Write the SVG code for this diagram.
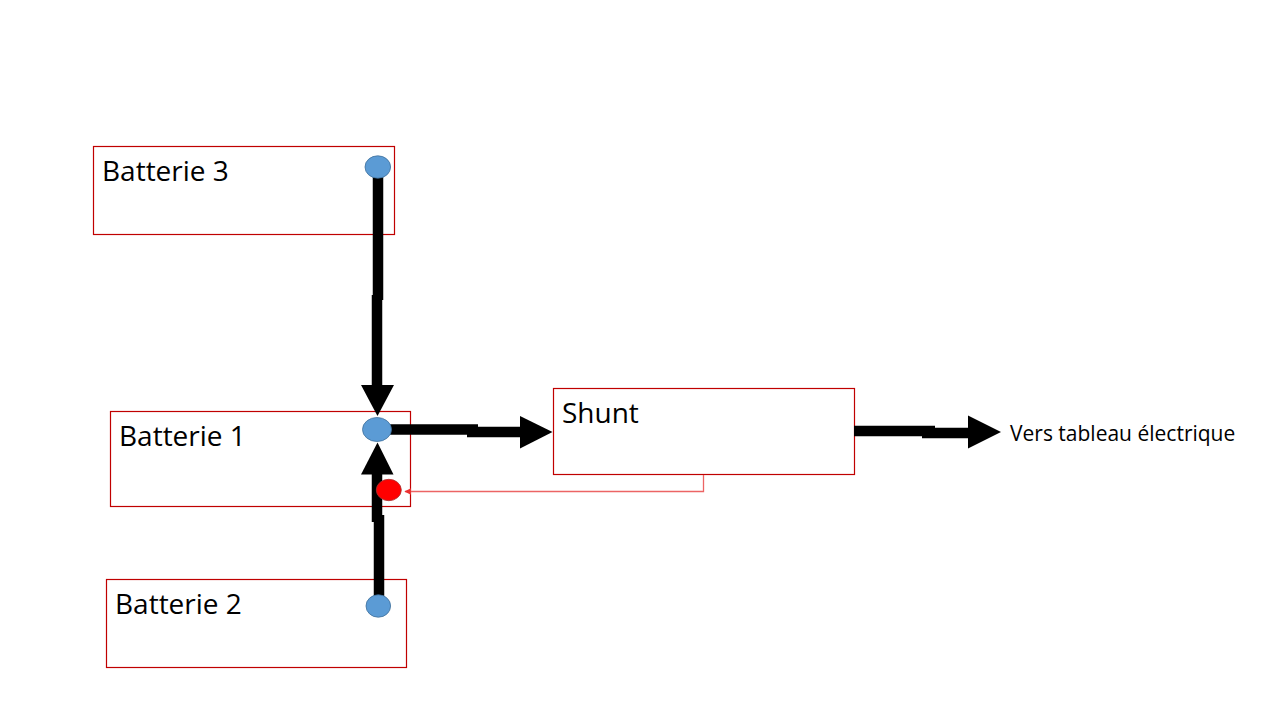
<svg xmlns="http://www.w3.org/2000/svg" width="1280" height="720" viewBox="0 0 1280 720">
<defs>
<style>
.box{fill:none;stroke:#C00000;stroke-width:1.2}
.lbl{font-family:"Open Sans","Liberation Sans",Arial,sans-serif;font-size:28px;fill:#000}
.out{font-family:"Open Sans","Liberation Sans",Arial,sans-serif;font-size:21px;fill:#000}
.shaft{stroke:#000;stroke-width:10.5;fill:none}
.head{fill:#000}
.term{fill:#5B9BD5;stroke:#41719C;stroke-width:0.8}
.sense{fill:#FF0000;stroke:#A83232;stroke-width:0.8}
.red{stroke:#EC6464;stroke-width:1.3;fill:none}
</style>
<marker id="redArrow" viewBox="0 0 10 10" refX="9" refY="5" markerWidth="7" markerHeight="7" markerUnits="userSpaceOnUse" orient="auto">
<path d="M0,0 L10,5 L0,10 z" fill="#EC3030"/>
</marker>
</defs>
<rect width="1280" height="720" fill="#fff"/>

<g id="batterie3">
<rect class="box" x="93.5" y="146.5" width="301" height="88"/>
<text class="lbl" x="102" y="181">Batterie 3</text>
</g>
<g id="batterie1">
<rect class="box" x="110.5" y="411.5" width="300" height="95"/>
<text class="lbl" x="119" y="446">Batterie 1</text>
</g>
<g id="batterie2">
<rect class="box" x="106.5" y="579.5" width="300" height="88"/>
<text class="lbl" x="115" y="614">Batterie 2</text>
</g>
<g id="shunt">
<rect class="box" x="553.5" y="388.5" width="301" height="86"/>
<text class="lbl" x="562" y="423">Shunt</text>
</g>
<g id="sortie">
<text class="out" x="1010" y="441">Vers tableau électrique</text>
</g>

<g id="connectors">
<!-- Batterie 3 -> Batterie 1 -->
<path class="shaft" d="M378,176 V300"/>
<path class="shaft" d="M377,295 V387"/>
<path class="head" d="M361,385 L394,385 L377.5,416 z"/>
<!-- Batterie 2 -> Batterie 1 -->
<path class="shaft" d="M379,598 V515"/>
<path class="shaft" d="M377,522 V472"/>
<path class="head" d="M361,474.5 L393.5,474.5 L377.5,442.5 z"/>
<!-- Batterie 1 -> Shunt -->
<path class="shaft" d="M390,429.5 H478"/>
<path class="shaft" d="M467,432 H522"/>
<path class="head" d="M520,416 L520,448.5 L552.5,432 z"/>
<!-- Shunt -> tableau -->
<path class="shaft" d="M854,431 H935"/>
<path class="shaft" d="M922,433 H970"/>
<path class="head" d="M968,415.5 L968,448.5 L1001,432 z"/>
<!-- Shunt sense wire -> red terminal -->
<path class="red" d="M703.5,475 V491.5 H405" marker-end="url(#redArrow)"/>
</g>

<g id="bornes">
<ellipse id="borne3" class="term" cx="377.8" cy="167" rx="12.8" ry="11.2"/>
<ellipse id="borne1" class="term" cx="377" cy="429.5" rx="14.5" ry="12"/>
<ellipse id="borne2" class="term" cx="378.3" cy="606" rx="12.3" ry="11.2"/>
<ellipse id="borneShunt" class="sense" cx="388.8" cy="490" rx="12.5" ry="10.7"/>
</g>
</svg>
